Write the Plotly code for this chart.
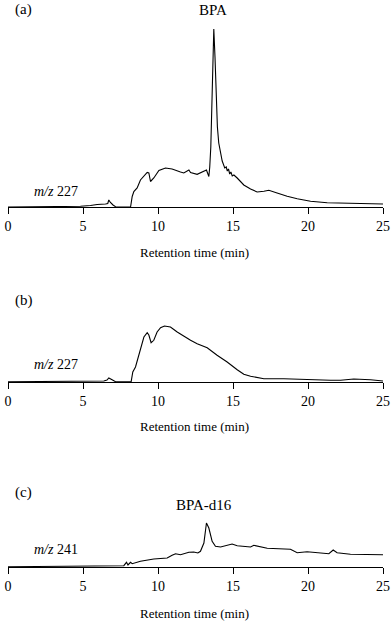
import plotly.graph_objects as go

# ---------------- data (retention time in min, intensity in arbitrary units) ----------------
time_a = [0, 2, 4, 4.83, 5.5, 5.94, 6.5, 6.65, 6.72, 6.83, 7.0, 7.17, 8.17, 8.28, 8.39, 8.61,
          8.83, 9.06, 9.28, 9.39, 9.5, 9.72, 10.06, 10.5, 10.94, 11.5, 11.72, 12.06, 12.17,
          12.61, 13.06, 13.23, 13.39, 13.45, 13.52, 13.6, 13.67, 13.72, 13.8, 13.88, 13.96,
          14.05, 14.15, 14.28, 14.45, 14.55, 14.62, 14.7, 14.78, 14.86, 14.95, 15.06, 15.28,
          15.72, 16.17, 16.61, 17.06, 17.39, 17.94, 18.61, 19.28, 20.17, 21.28, 22.83, 25]
signal_a = [0, 0.3, 0.5, 0.7, 1.5, 2.5, 3, 3.5, 7, 4.5, 2, 0.3, 0, 10.5, 15.5, 19,
            27, 30.5, 34.5, 34, 25.5, 29, 36.5, 39, 38, 35, 34, 37, 34.5,
            32.7, 35.5, 37, 30.5, 40, 60, 110, 160, 178, 150, 110, 80,
            64, 55, 46, 39, 40, 36, 38, 33, 35, 31, 32, 29,
            22, 18, 15, 15.7, 16.7, 14, 10.7, 8.3, 5.7, 4.3, 3.7, 3]

time_b = [0, 2, 4, 5.5, 6.39, 6.6, 6.72, 6.94, 7.17, 8.21, 8.32, 8.5, 8.83, 9.06, 9.28, 9.39,
          9.54, 9.72, 9.94, 10.17, 10.43, 10.6, 10.83, 11.28, 11.72, 12.17, 12.61, 13.28,
          13.94, 14.61, 15.28, 15.72, 16.17, 17.06, 18.39, 19.94, 21.5, 22.17, 23.05, 24.17, 25]
signal_b = [0.3, 0.5, 0.6, 0.7, 1, 2, 4, 2.3, 0.3, 0.3, 10, 15, 31.7, 45, 49.3, 47,
            39.3, 41.7, 50, 54.3, 56, 55.5, 55, 50, 45.7, 41.7, 38.3, 34.3,
            26.7, 20, 12.3, 7.7, 5.7, 3.3, 3.3, 2.3, 1.7, 1.7, 3, 2.3, 1]

time_c = [0, 3, 6.17, 7.06, 7.72, 7.9, 8.0, 8.06, 8.17, 8.28, 8.83, 9.72, 10.61, 10.94, 11.17,
          11.5, 11.83, 12.06, 12.39, 12.66, 12.83, 13.06, 13.23, 13.39, 13.61, 13.83, 14.17,
          14.61, 14.94, 15.28, 16.17, 16.39, 17.28, 18.83, 19.28, 19.94, 20.83, 21.39, 21.68,
          21.94, 22.83, 24.39, 25]
signal_c = [0.3, 0.5, 0.7, 1.3, 1.3, 4.7, 2, 3, 4.7, 3.3, 5.7, 8, 9, 11.7, 13.3,
            12.3, 14, 14.7, 15, 14, 15.7, 24, 44, 39, 25.7, 20.7, 20,
            21.3, 23, 21.3, 20, 21.7, 18.7, 17.7, 14.3, 15.3, 13.7, 13.3, 17,
            14.3, 12.7, 12, 12.3]

x_ticks = [0, 5, 10, 15, 20, 25]
panel_labels = ["(a)", "(b)", "(c)"]
ion_labels = ["<i>m/z</i> 227", "<i>m/z</i> 227", "<i>m/z</i> 241"]
peak_labels = ["BPA", "", "BPA-d16"]
axis_title = "Retention time (min)"

# ---------------- layout helpers ----------------
W, H = 392, 623
FONT = "Liberation Serif"


def py(p):
    """pixel row -> paper y"""
    return 1 - p / H


fig = go.Figure()
series = [(time_a, signal_a), (time_b, signal_b), (time_c, signal_c)]
# (bottom px, top px, y-range max)
panels = [(207, 17, 190), (382, 312, 70), (567, 517, 50)]

for i, ((tx, sy), (bot, top, ymax)) in enumerate(zip(series, panels)):
    n = "" if i == 0 else str(i + 1)
    fig.add_trace(go.Scatter(x=tx, y=sy, mode="lines",
                             line=dict(color="black", width=1.1),
                             xaxis="x" + n, yaxis="y" + n, showlegend=False,
                             hoverinfo="skip"))
    fig.layout["xaxis" + n] = dict(
        domain=[0, 1], anchor="y" + n, range=[0, 25],
        tickvals=x_ticks, ticktext=[str(v) for v in x_ticks],
        ticks="outside", ticklen=6, tickwidth=1, tickcolor="black",
        showline=True, linecolor="black", linewidth=1,
        showgrid=False, zeroline=False,
        tickfont=dict(family=FONT, size=14, color="black"),
        automargin=False,
    )
    fig.layout["yaxis" + n] = dict(
        domain=[py(bot), py(top)], anchor="x" + n, range=[0, ymax],
        visible=False, showgrid=False, zeroline=False,
    )

# text positions (px)
panel_label_y = [9.5, 300, 492]
ion_label_y = [191, 364.5, 549]
peak_label_pos = [(214, 10), None, (205, 505)]
title_y = [253, 426, 613]

ann = []
for i in range(3):
    ann.append(dict(text=panel_labels[i], x=5 / W, y=py(panel_label_y[i]), xref="paper", yref="paper",
                    xanchor="left", yanchor="middle", showarrow=False,
                    font=dict(family=FONT, size=15, color="black")))
    ann.append(dict(text=ion_labels[i], x=25 / W, y=py(ion_label_y[i]), xref="paper", yref="paper",
                    xanchor="left", yanchor="middle", showarrow=False,
                    font=dict(family=FONT, size=14, color="black")))
    if peak_labels[i]:
        px_, py_ = peak_label_pos[i]
        ann.append(dict(text=peak_labels[i], x=px_ / W, y=py(py_), xref="paper", yref="paper",
                        xanchor="center", yanchor="middle", showarrow=False,
                        font=dict(family=FONT, size=15, color="black")))
    ann.append(dict(text=axis_title, x=195 / W, y=py(title_y[i]), xref="paper", yref="paper",
                    xanchor="center", yanchor="middle", showarrow=False,
                    font=dict(family=FONT, size=13, color="black")))

fig.update_layout(
    width=W, height=H,
    margin=dict(l=8, r=9, t=0, b=0, pad=0),
    paper_bgcolor="white", plot_bgcolor="white",
    annotations=ann,
    font=dict(family=FONT, color="black"),
)

fig.write_html("out.html", config={"displayModeBar": False},
               post_script="document.body.style.margin='0px';document.body.style.padding='0px';")
